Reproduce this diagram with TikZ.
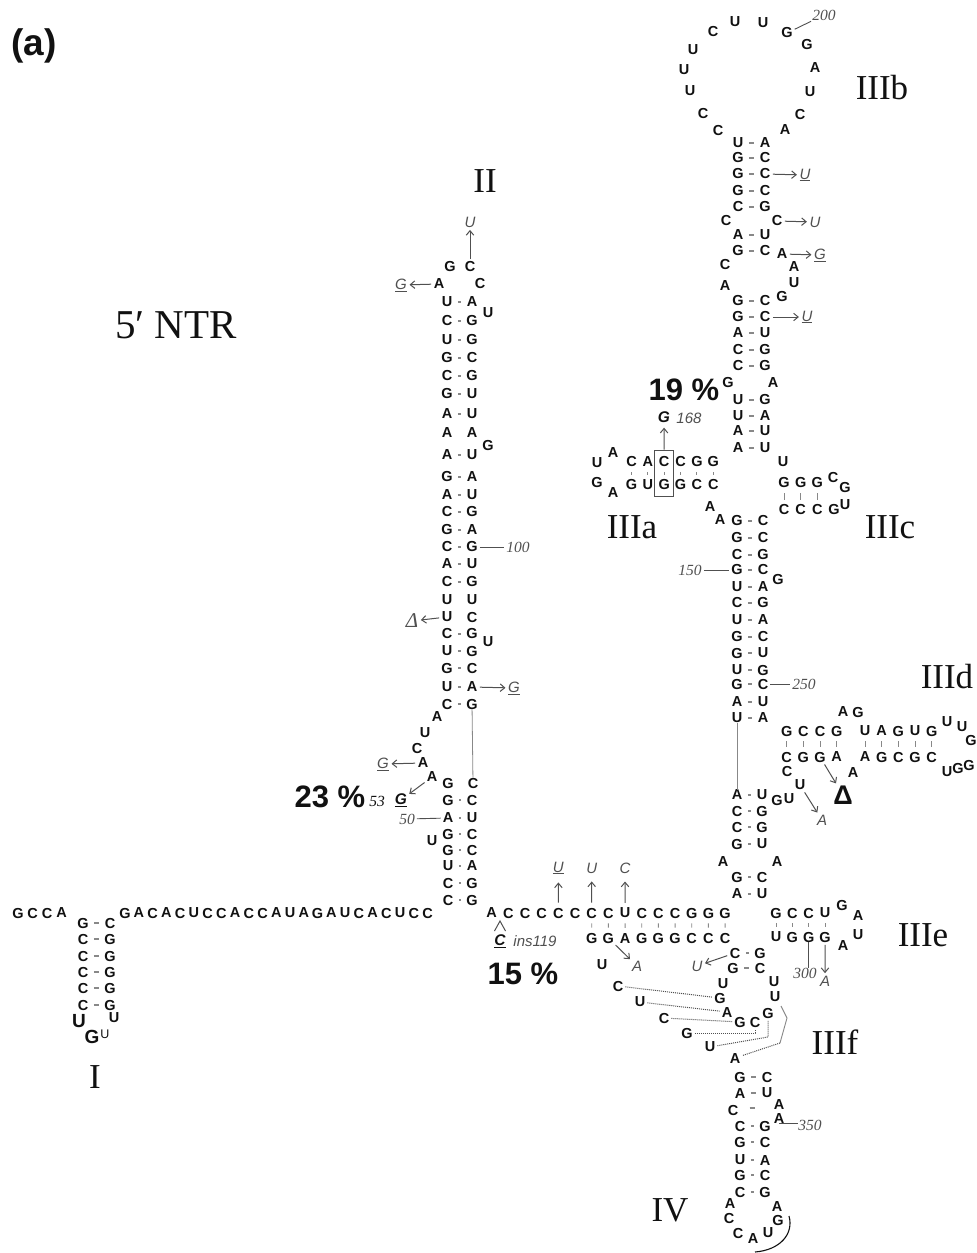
\documentclass[tikz,border=0pt]{standalone}
\usepackage{fontspec}
\setmainfont{Liberation Sans}
\newfontfamily\tnr{Liberation Serif}
\usetikzlibrary{arrows.meta,fit}
\definecolor{bk}{HTML}{111111}
\definecolor{mg}{HTML}{505050}
\definecolor{lg}{HTML}{888888}
\tikzset{
  base/.style={inner sep=0pt, text=bk, font=\fontsize{14.5}{15}\selectfont\bfseries},
  sbase/.style={inner sep=0pt, text=bk, font=\fontsize{12.5}{12.5}\selectfont},
  lbase/.style={inner sep=0pt, text=bk, font=\fontsize{19}{19}\selectfont\bfseries},
  mut/.style={inner sep=0pt, text=mg, font=\fontsize{15}{15}\selectfont\itshape},
  num/.style={inner sep=0pt, text=mg, font=\tnr\fontsize{15.5}{15.5}\selectfont\itshape},
  rom/.style={inner sep=0pt, text=bk, font=\tnr\fontsize{35}{35}\selectfont},
  pct/.style={inner sep=0pt, text=bk, font=\fontsize{31}{31}\selectfont\bfseries},
  bgi/.style={inner sep=0pt, text=bk, font=\fontsize{15.5}{15.5}\selectfont\bfseries\itshape},
  pd/.style={draw=lg, line width=1.1pt, shorten <=5.5pt, shorten >=5.5pt},
  tk/.style={draw=lg, line width=0.9pt, shorten <=5pt, shorten >=5pt},
  mar/.style={draw=mg, line width=1pt, shorten <=2.5pt, shorten >=2.5pt, -{Straight Barb[length=4.5pt,width=7.5pt]}},
  ln/.style={draw=lg, line width=0.8pt},
  nl/.style={draw=mg, line width=0.9pt, shorten <=2pt, shorten >=2pt},
  dl/.style={draw=mg, line width=1pt, densely dotted, shorten <=2pt, shorten >=2pt},
}
\newcommand\bp[6]{\node[base] (#1l) at (#2,#4) {#5};\node[base] (#1r) at (#3,#4) {#6};\draw[pd] (#1l) -- (#1r);}
\newcommand\bu[6]{\node[base] (#1l) at (#2,#4) {#5};\node[base] (#1r) at (#3,#4) {#6};}
\newcommand\nb[3]{\node[base] (#1) at (#2) {#3};}
\newcommand\hseq[5]{\foreach \ch [count=\ii] in {#5} {\node[base] (#1\ii) at ({#2+(\ii-1)*#4},#3) {\ch};}}
\newcommand\tks[3]{\foreach \ii in {1,...,#3} {\draw[tk] (#1\ii) -- (#2\ii);}}
\begin{document}
\begin{tikzpicture}[x=1pt,y=-1pt]
\useasboundingbox (0,0) rectangle (977,1253);
\fill[white] (0,0) rectangle (977,1253);

% ---------- labels ----------
\node[inner sep=0pt, text=bk, font=\fontsize{37}{37}\selectfont\bfseries] (La) at (34,46) {(a)};
\node[rom, font=\tnr\fontsize{41}{41}\selectfont] (Lntr) at (176,325) {5′ NTR};
\node[rom] (LI) at (95,1077) {I};
\node[rom] (LII) at (485,181) {II};
\node[rom] (LIIIb) at (882,88) {IIIb};
\node[rom] (LIIIa) at (632,527) {IIIa};
\node[rom] (LIIIc) at (890,527) {IIIc};
\node[rom] (LIIId) at (947,677) {IIId};
\node[rom] (LIIIe) at (923,935) {IIIe};
\node[rom] (LIIIf) at (835,1042) {IIIf};
\node[rom] (LIV) at (670,1210) {IV};

% ---------- stem I and 5' strand ----------
\hseq{h}{18}{913}{14.5}{G,C,C,A}
\bp{c1}{83}{110}{923}{G}{C}
\bp{c2}{83}{110}{939}{C}{G}
\bp{c3}{83}{110}{956}{C}{G}
\bp{c4}{83}{110}{972}{C}{G}
\bp{c5}{83}{110}{988}{C}{G}
\bp{c6}{83}{110}{1005}{C}{G}
\node[lbase] (lu) at (79,1021) {U};
\node[lbase] (lg) at (92,1037) {G};
\node[sbase] (su) at (105,1034) {U};
\nb{lu2}{114,1018}{U}
\hseq{hs}{125}{913}{13.75}{G,A,C,A,C,U,C,C,A,C,C,A,U,A,G,A,U,C,A,C,U,C,C}

% ---------- stem II ----------
\nb{s2g}{450,267}{G}
\nb{s2c}{470,267}{C}
\nb{s2a}{439,284}{A}
\nb{s2cc}{480,284}{C}
\node[mut] (mU1) at (470,222) {U};
\draw[mar] (s2c) -- (mU1);
\node[mut] (mG1) at (401,285) {\underline{G}};
\draw[mar] (s2a) -- (mG1);
\bp{a1}{447}{472}{302}{U}{A}
\bp{a2}{447}{472}{321}{C}{G}
\bp{a3}{447}{472}{340}{U}{G}
\bp{a4}{447}{472}{358}{G}{C}
\bp{a5}{447}{472}{376}{C}{G}
\bp{a6}{447}{472}{394}{G}{U}
\bp{a7}{447}{472}{414}{A}{U}
\bu{a8}{447}{472}{433}{A}{A}
\bp{a9}{447}{472}{455}{A}{U}
\bp{a10}{447}{472}{477}{G}{A}
\bp{a11}{447}{472}{495}{A}{U}
\bp{a12}{447}{472}{512}{C}{G}
\bp{a13}{447}{472}{530}{G}{A}
\bp{a14}{447}{472}{547}{C}{G}
\bp{a15}{447}{472}{564}{A}{U}
\bp{a16}{447}{472}{582}{C}{G}
\bu{a17}{447}{472}{600}{U}{U}
\bu{a18}{447}{472}{617}{U}{C}
\bp{a19}{447}{472}{634}{C}{G}
\bp{a20}{447}{472}{651}{U}{G}
\bp{a21}{447}{472}{668}{G}{C}
\bp{a22}{447}{472}{687}{U}{A}
\bp{a23}{447}{472}{704}{C}{G}
\nb{bl1}{488,313}{U}
\nb{bl2}{488,446}{G}
\nb{bl3}{488,642}{U}
\node[num] (n100) at (518,547) {100};
\draw[nl] (a14r) -- (n100);
\node[inner sep=0pt, text=mg, font=\tnr\itshape\fontsize{21}{21}\selectfont] (dA) at (412,621) {Δ};
\draw[mar] (a18l) -- (dA);
\node[mut] (mG2) at (514,688) {\underline{G}};
\draw[mar] (a22r) -- (mG2);
\nb{l1}{437,717}{A}
\nb{l2}{425,733}{U}
\nb{l3}{417,748}{C}
\nb{l4}{423,763}{A}
\nb{l5}{432,777}{A}
\node[mut] (mG3) at (383,764) {\underline{G}};
\draw[mar] (l4) -- (mG3);
\bu{b0}{448}{473}{783}{G}{C}
\draw[ln] (a23r) -- (b0r);
\bp{b1}{448}{472}{800}{G}{C}
\bp{b2}{448}{472}{818}{A}{U}
\bp{b3}{448}{472}{834}{G}{C}
\bp{b4}{448}{472}{850}{G}{C}
\bp{b5}{448}{472}{866}{U}{A}
\bp{b6}{448}{472}{883}{C}{G}
\bp{b7}{448}{472}{900}{C}{G}
\nb{bl4}{432,841}{U}
\node[pct] (p23) at (330,797) {23 \%};
\node[num, text=bk] (n53) at (377,801) {53};
\node[bgi] (g53) at (401,800) {\underline{G}};
\draw[mar] (l5) -- (g53);
\node[num] (n50) at (407,819) {50};
\draw[nl] (n50) -- (b2l);

% ---------- central strand ----------
\hseq{t}{491.7}{913}{16.67}{A,C,C,C,C,C,C,C,U,C,C,C,G,G,G}
\hseq{u}{591.7}{938}{16.67}{G,G,A,G,G,G,C,C,C}
\foreach \ii in {1,...,9} {\pgfmathtruncatemacro{\jj}{\ii+6}\draw[tk] (t\jj) -- (u\ii);}
\node[mut] (mU2) at (558.4,868) {\underline{U}};
\node[mut] (mU3) at (591.7,868) {U};
\node[mut] (mC1) at (625,868) {C};
\draw[mar, shorten <=5pt, shorten >=8pt] (t5) -- (mU2);
\draw[mar, shorten <=5pt, shorten >=8pt] (t7) -- (mU3);
\draw[mar, shorten <=5pt, shorten >=8pt] (t9) -- (mC1);
\node[bgi] (cins) at (500,941) {\underline{C}};
\node[mut] (ins) at (535,941) {ins119};
\coordinate (car1) at (494.5,931);
\coordinate (car2) at (500,921);
\coordinate (car3) at (505.5,931);
\draw[mg, line width=1pt] (car1) -- (car2) -- (car3);
\node[pct] (p15) at (523,974) {15 \%};
\node[mut] (mA1) at (637,966) {A};
\draw[mar] (u2) -- (mA1);
\nb{w0}{602,965}{U}
\nb{w1}{618,986}{C}
\nb{w2}{640,1002}{U}
\nb{w3}{664,1018}{C}
\nb{w4}{687,1033}{G}
\nb{w5}{710,1047}{U}

% ---------- IIIf ----------
\bp{f1}{735}{760}{953}{C}{G}
\bp{f2}{733}{760}{968}{G}{C}
\node[mut] (mU4) at (697,966) {U};
\draw[mar] (f1l) -- (mU4);
\nb{f3}{723,984}{U}
\nb{f4}{720,998}{G}
\nb{f5}{774,982}{U}
\nb{f6}{775,997}{U}
\nb{f7}{727,1012}{A}
\nb{f8}{740,1022}{G}
\nb{f9}{755,1022}{C}
\nb{f10}{768,1013}{G}
\nb{f11}{735,1058}{A}
\draw[dl] (w1) -- (f4);
\draw[dl] (w2) -- (f7);
\draw[dl] (w3) -- (f8);
\draw[dl] (w4) -| (f9);
\coordinate (k1) at (768,1037);
\draw[dl] (w5) -- (k1) -- (f10);
\coordinate (k2) at (781,1006);
\coordinate (k3) at (787,1018);
\coordinate (k4) at (780,1043);
\draw[ln, line width=0.9pt] (k2) -- (k3) -- (k4);
\draw[dl, shorten <=0pt] (k4) -- (f11);

% ---------- IIIe ----------
\hseq{e}{776}{913}{16.33}{G,C,C,U}
\hseq{g}{776}{937}{16.33}{U,G,G,G}
\tks{e}{g}{4}
\nb{e5}{842,905}{G}
\nb{e6}{858,916}{A}
\nb{e7}{858,935}{U}
\nb{e8}{843,945}{A}
\node[num] (n300) at (805,973) {300};
\draw[mg, line width=1pt] (g3.south) -- (g3.south |- n300.north);
\node[mut] (mA2) at (825,981) {A};
\draw[mar] (g4) -- (mA2);

% ---------- stem III lower ----------
\nb{xa1}{710,507}{A}
\nb{xa2}{720,520}{A}
\bp{d1}{737}{763}{521}{G}{C}
\bp{d2}{737}{763}{538}{G}{C}
\bp{d3}{737}{763}{555}{C}{G}
\bp{d4}{737}{763}{570}{G}{C}
\bp{d5}{737}{763}{587}{U}{A}
\bp{d6}{737}{763}{603}{C}{G}
\bp{d7}{737}{763}{620}{U}{A}
\bp{d8}{737}{763}{637}{G}{C}
\bp{d9}{737}{763}{653}{G}{U}
\bp{d10}{737}{763}{670}{U}{G}
\bp{d11}{737}{763}{684}{G}{C}
\bp{d12}{737}{763}{702}{A}{U}
\bp{d13}{737}{763}{718}{U}{A}
\nb{dg}{778,580}{G}
\node[num] (n150) at (690,570) {150};
\draw[nl] (n150) -- (d4l);
\node[num] (n250) at (804,684) {250};
\draw[nl] (d11r) -- (n250);
\bp{x1}{737}{762}{795}{A}{U}
\draw[ln] (d13l) -- (x1l);
\bp{x2}{737}{762}{811}{C}{G}
\bp{x3}{737}{762}{827}{C}{G}
\bp{x4}{737}{762}{844}{G}{U}
\nb{xa3}{723,862}{A}
\nb{xa4}{777,862}{A}
\bp{x5}{737}{762}{877}{G}{C}
\bp{x6}{737}{762}{894}{A}{U}
\nb{xg}{777,800}{G}
\nb{xu}{789,799}{U}
\nb{xu2}{800,785}{U}
\node[mut] (mA3) at (822,820) {A};
\draw[mar] (xu2) -- (mA3);

% ---------- IIId ----------
\hseq{q}{786.7}{731}{16.67}{G,C,C,G}
\hseq{r}{786.7}{757}{16.67}{C,G,G,A}
\tks{q}{r}{4}
\nb{qa}{843,712}{A}
\nb{qg}{858,712}{G}
\hseq{qq}{865}{731}{16.67}{U,A,G,U,G}
\hseq{rr}{865}{757}{16.67}{A,G,C,G,C}
\tks{qq}{rr}{5}
\nb{lp1}{947,722}{U}
\nb{lp2}{962,727}{U}
\nb{lp3}{971,740}{G}
\nb{lp4}{969,765}{G}
\nb{lp5}{958,768}{G}
\nb{lp6}{947,772}{U}
\nb{rc}{787,771}{C}
\nb{ra}{853,773}{A}
\node[inner sep=0pt, text=bk, font=\fontsize{27}{27}\selectfont\bfseries] (dB) at (843,795) {Δ};
\draw[mar] (r3) -- (dB);

% ---------- IIIa / IIIc ----------
\hseq{ia}{631.5}{462}{16.35}{C,A,C,C,G,G}
\hseq{ib}{631.5}{485}{16.35}{G,U,G,G,C,C}
\tks{ia}{ib}{6}
\nb{ial1}{613,453}{A}
\nb{ial2}{597,463}{U}
\nb{ial3}{597,483}{G}
\nb{ial4}{613,493}{A}
\node[draw=mg, line width=0.9pt, inner xsep=3.5pt, inner ysep=6.5pt, fit=(ia3)(ib3)] (box) {};
\node[bgi] (g168) at (664,417) {G};
\node[mut] (n168) at (689,418) {168};
\draw[mar, shorten <=0pt, shorten >=5pt] (box) -- (g168);
\node[pct] (p19) at (684,390) {19 \%};
\nb{cu}{783,462}{U}
\hseq{ca}{784}{483}{16.67}{G,G,G}
\hseq{cb}{784}{510}{16.67}{C,C,C,G}
\tks{ca}{cb}{3}
\nb{cc}{833,478}{C}
\nb{cg}{845,488}{G}
\nb{cuu}{845,505}{U}

% ---------- stem III upper / IIIb ----------
\bp{p1}{738}{765}{143}{U}{A}
\bp{p2}{738}{765}{158}{G}{C}
\bp{p3}{738}{765}{174}{G}{C}
\bp{p4}{738}{765}{191}{G}{C}
\bp{p5}{738}{765}{207}{C}{G}
\nb{pc1}{726,221}{C}
\nb{pc2}{777,221}{C}
\bp{p6}{738}{765}{235}{A}{U}
\bp{p7}{738}{765}{251}{G}{C}
\nb{pa1}{782,254}{A}
\nb{pc3}{725,265}{C}
\nb{pa2}{794,267}{A}
\nb{pa3}{725,286}{A}
\nb{pu1}{794,283}{U}
\nb{pg1}{782,297}{G}
\bp{p8}{738}{765}{301}{G}{C}
\bp{p9}{738}{765}{317}{G}{C}
\bp{p10}{738}{765}{333}{A}{U}
\bp{p11}{738}{765}{350}{C}{G}
\bp{p12}{738}{765}{366}{C}{G}
\nb{pg2}{728,383}{G}
\nb{pa4}{773,383}{A}
\bp{p13}{738}{765}{400}{U}{G}
\bp{p14}{738}{765}{416}{U}{A}
\bp{p15}{738}{765}{431}{A}{U}
\bp{p16}{738}{765}{448}{A}{U}
\node[mut] (mU5) at (805,175) {\underline{U}};
\draw[mar] (p3r) -- (mU5);
\node[mut] (mU6) at (815,222) {U};
\draw[mar] (pc2) -- (mU6);
\node[mut] (mG4) at (820,255) {\underline{G}};
\draw[mar] (pa1) -- (mG4);
\node[mut] (mU7) at (807,317) {\underline{U}};
\draw[mar] (p9r) -- (mU7);
% loop IIIb
\nb{o1}{718,131}{C}
\nb{o2}{703,114}{C}
\nb{o3}{690,91}{U}
\nb{o4}{684,70}{U}
\nb{o5}{693,50}{U}
\nb{o6}{713,32}{C}
\nb{o7}{735,22}{U}
\nb{o8}{763,23}{U}
\nb{o9}{787,33}{G}
\nb{o10}{807,45}{G}
\nb{o11}{815,68}{A}
\nb{o12}{810,92}{U}
\nb{o13}{800,115}{C}
\nb{o14}{785,130}{A}
\node[num] (n200) at (824,15) {200};
\draw[nl] (o9) -- (n200);

% ---------- IV ----------
\bp{iv1}{740}{767}{1077}{G}{C}
\bp{iv2}{740}{767}{1093}{A}{U}
\nb{iva1}{779,1104}{A}
\nb{iva2}{779,1118}{A}
\nb{ivc}{733,1110}{C}
\coordinate (dsh1) at (749.5,1108);
\coordinate (dsh2) at (754.5,1108);
\draw[lg, line width=1.1pt] (dsh1) -- (dsh2);
\node[num] (n350) at (810,1125) {350};
\draw[mg, line width=1pt] (iva2.south) -- (iva2.south -| n350.west);
\bp{iv3}{740}{765}{1126}{C}{G}
\bp{iv4}{740}{765}{1142}{G}{C}
\bp{iv5}{740}{765}{1160}{U}{A}
\bp{iv6}{740}{765}{1175}{G}{C}
\bp{iv7}{740}{765}{1192}{C}{G}
\nb{ivl1}{730,1203}{A}
\nb{ivr1}{777,1206}{A}
\nb{ivl2}{729,1218}{C}
\nb{ivr2}{778,1220}{G}
\nb{ivb1}{738,1233}{C}
\nb{ivb2}{753,1238}{A}
\nb{ivb3}{768,1233}{U}
\coordinate (arcA) at (789,1216);
\coordinate (arcB) at (755,1252);
\draw[bk, line width=1.1pt] (arcA) .. controls (794,1234) and (780,1250) .. (arcB);
\end{tikzpicture}
\end{document}
